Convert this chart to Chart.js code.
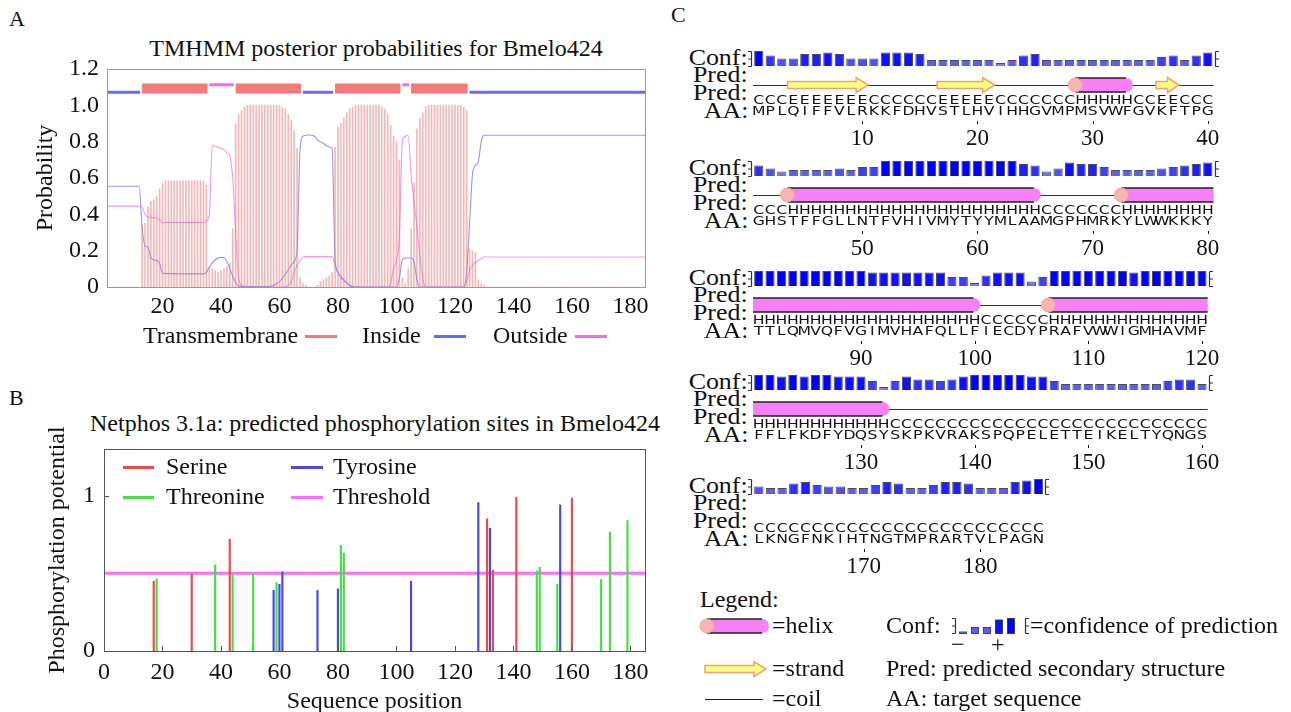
<!DOCTYPE html>
<html>
<head>
<meta charset="utf-8">
<script src="https://cdn.jsdelivr.net/npm/chart.js@4.4.1/dist/chart.umd.min.js"></script>
<style>
  html, body { margin: 0; padding: 0; background: #fff; }
  body { width: 1291px; height: 712px; overflow: hidden; position: relative;
         font-family: "Liberation Serif", "Times New Roman", serif; color: #111; }
  canvas { position: absolute; }
  .t { position: absolute; white-space: nowrap; line-height: 1; }
  .f24 { font-size: 24px; }
  .f22 { font-size: 22px; }
  .key { position: absolute; height: 3px; }
</style>
</head>
<body>

<div class="t f22" style="left:9px;top:8px">A</div>
<div class="t f24" style="left:26px;top:36px;width:700px;text-align:center">TMHMM posterior probabilities for Bmelo424</div>
<canvas id="cA" width="660" height="360" style="left:0;top:0"></canvas>
<div class="t f24" style="left:143px;top:323px">Transmembrane</div>
<div class="key" style="left:305px;top:335px;width:32px;background:#f47a7a"></div>
<div class="t f24" style="left:362px;top:323px">Inside</div>
<div class="key" style="left:434px;top:335px;width:32px;background:#6a6af0"></div>
<div class="t f24" style="left:493px;top:323px">Outside</div>
<div class="key" style="left:575px;top:335px;width:32px;background:#f06af0"></div>

<div class="t f22" style="left:9px;top:387px">B</div>
<div class="t f24" style="left:25px;top:411px;width:700px;text-align:center">Netphos 3.1a: predicted phosphorylation sites in Bmelo424</div>
<canvas id="cB" width="660" height="340" style="left:0;top:380px"></canvas>
<div class="key" style="left:123px;top:466px;width:31px;background:#f04848"></div>
<div class="t f24" style="left:166px;top:454px">Serine</div>
<div class="key" style="left:291px;top:466px;width:32px;background:#4848e8"></div>
<div class="t f24" style="left:333px;top:454px">Tyrosine</div>
<div class="key" style="left:123px;top:496px;width:31px;background:#44e044"></div>
<div class="t f24" style="left:166px;top:484px">Threonine</div>
<div class="key" style="left:291px;top:496px;width:32px;background:#ff6cff"></div>
<div class="t f24" style="left:333px;top:484px">Threshold</div>

<div class="t f22" style="left:671px;top:4px">C</div>
<div id="rowLabels"></div>

<div class="t f24" style="left:700px;top:587px">Legend:</div>
<canvas id="cLegend" width="400" height="100" style="left:690px;top:610px"></canvas>
<div class="t f24" style="left:772px;top:613px">=helix</div>
<div class="t f24" style="left:886px;top:613px">Conf:</div>
<div class="t f24" style="left:1030px;top:613px">=confidence of prediction</div>
<div class="t f24" style="left:951px;top:632px">&#8722;</div>
<div class="t f24" style="left:991px;top:632px">+</div>
<div class="t f24" style="left:772px;top:656px">=strand</div>
<div class="t f24" style="left:886px;top:656px">Pred: predicted secondary structure</div>
<div class="t f24" style="left:772px;top:686px">=coil</div>
<div class="t f24" style="left:886px;top:686px">AA: target sequence</div>

<script>
// ---- panel A: TMHMM posterior probabilities (per residue / curve points)
const tmProb = [
  0, 0, 0, 0, 0, 0, 0, 0, 0, 0,
  0, 0, 0.34, 0.35, 0.44, 0.47, 0.48, 0.5, 0.54, 0.57,
  0.585, 0.585, 0.585, 0.585, 0.585, 0.585, 0.585, 0.585, 0.585, 0.585,
  0.585, 0.585, 0.585, 0.58, 0.56, 0.11, 0.1, 0.09, 0.08, 0.09,
  0.1, 0.11, 0.13, 0.32, 0.9, 0.95, 0.97, 0.99, 1, 1,
  1, 1, 1, 1, 1, 1, 1, 1, 1, 1,
  0.99, 0.98, 0.95, 0.92, 0.86, 0.76, 0.05, 0.02, 0.01, 0,
  0, 0, 0.01, 0.03, 0.04, 0.05, 0.06, 0.08, 0.77, 0.88,
  0.9, 0.93, 0.96, 0.98, 0.99, 1, 1, 1, 1, 1,
  1, 1, 1, 1, 0.99, 0.98, 0.95, 0.89, 0.83, 0.8,
  0.7, 0.05, 0.02, 0.1, 0.32, 0.57, 0.87, 0.93, 0.96, 0.99,
  1, 1, 1, 1, 1, 1, 1, 1, 1, 1,
  1, 1, 0.99, 0.97, 0.21, 0.2, 0.19, 0.04, 0.02, 0.01,
  0, 0, 0, 0, 0, 0, 0, 0, 0, 0,
  0, 0, 0, 0, 0, 0, 0, 0, 0, 0,
  0, 0, 0, 0, 0, 0, 0, 0, 0, 0,
  0, 0, 0, 0, 0, 0, 0, 0, 0, 0,
  0, 0, 0, 0, 0, 0, 0, 0, 0, 0,
  0, 0, 0, 0, 0
];
const insideCurve = [
  [1, 0.555], [12, 0.555], [13, 0.33], [14, 0.225], [15, 0.22], [16, 0.16], [18, 0.145],
  [19, 0.13], [20, 0.075], [34, 0.072], [35, 0.08], [36, 0.11], [38, 0.15], [40, 0.163],
  [41, 0.162], [42, 0.14], [43, 0.1], [44, 0.06], [45, 0.025], [46, 0.005], [56, 0.002],
  [58, 0.01], [60, 0.03], [62, 0.07], [64, 0.12], [65, 0.14], [66, 0.2], [67, 0.75],
  [68, 0.83], [70, 0.837], [72, 0.83], [73, 0.81], [75, 0.79], [77, 0.772], [78, 0.76],
  [79, 0.15], [80, 0.08], [82, 0.04], [84, 0.01], [86, 0.0], [100, 0.0], [101, 0.05],
  [102, 0.15], [103, 0.16], [105, 0.16], [106, 0.14], [107, 0.04], [108, 0.0], [123, 0.0],
  [124, 0.08], [125, 0.35], [126, 0.62], [127, 0.67], [128, 0.69], [129, 0.8], [130, 0.835],
  [185, 0.835]
];
const outsideCurve = [
  [1, 0.445], [12, 0.445], [13, 0.44], [14, 0.4], [15, 0.385], [18, 0.38], [19, 0.37],
  [20, 0.355], [34, 0.355], [35, 0.365], [36, 0.4], [37, 0.78], [38, 0.775], [40, 0.765],
  [41, 0.755], [42, 0.74], [43, 0.72], [44, 0.6], [45, 0.3], [46, 0.05], [47, 0.01], [48, 0.0],
  [62, 0.0], [63, 0.01], [64, 0.03], [65, 0.08], [66, 0.12], [67, 0.145], [68, 0.163],
  [69, 0.167], [78, 0.167], [79, 0.12], [80, 0.08], [81, 0.05], [83, 0.02], [85, 0.0],
  [97, 0.0], [98, 0.02], [99, 0.1], [100, 0.15], [101, 0.28], [102, 0.8], [103, 0.83],
  [104, 0.835], [105, 0.62], [106, 0.47], [107, 0.33], [108, 0.17], [109, 0.05], [110, 0.0],
  [123, 0.0], [124, 0.03], [125, 0.09], [126, 0.12], [127, 0.135], [128, 0.145], [129, 0.155],
  [130, 0.165], [185, 0.165]
];
// predicted topology: [state, first residue, last residue]
const topology = [
  ['inside', 1, 12], ['tm', 13, 35], ['outside', 36, 44], ['tm', 45, 67], ['inside', 68, 78],
  ['tm', 79, 101], ['outside', 102, 104], ['tm', 105, 124], ['inside', 125, 185]
];
const tickXA = [20, 40, 60, 80, 100, 120, 140, 160, 180];
const tickYA = [0, 0.2, 0.4, 0.6, 0.8, 1.0, 1.2];

// ---- panel B: NetPhos sites
const serinePos   = [17, 30, 43, 131, 133, 141, 160];
const serineScore = [0.45, 0.495, 0.72, 0.85, 0.52, 0.99, 0.985];
const threoninePos   = [18, 38, 44, 51, 59, 81, 82, 148, 149, 155, 170, 173, 179];
const threonineScore = [0.465, 0.553, 0.49, 0.495, 0.44, 0.68, 0.63, 0.516, 0.54, 0.43, 0.46, 0.765, 0.84];
const tyrosinePos   = [58, 60, 61, 73, 80, 105, 128, 132, 156];
const tyrosineScore = [0.39, 0.43, 0.51, 0.39, 0.40, 0.45, 0.955, 0.79, 0.94];
const threshold = 0.5;
const tickXB = [0, 20, 40, 60, 80, 100, 120, 140, 160, 180];
const tickYB = [0, 1];

// ---- panel C: PSIPRED
const sequenceRows = [
  'MPLQIFFVLRKKFDHVSTLHVIHHGVMPMSVWFGVKFTPG',
  'GHSTFFGLLNTFVHIVMYTYYMLAAMGPHMRKYLWWKKKY',
  'TTLQMVQFVGIMVHAFQLLFIECDYPRAFVWWIGMHAVMF',
  'FFLFKDFYDQSYSKPKVRAKSPQPELETTEIKELTYQNGS',
  'LKNGFNKIHTNGTMPRARTVLPAGN'
];
const confidence = [
  9, 6, 4, 4, 7, 7, 8, 7, 4, 4, 4, 8, 8, 8, 7, 3, 3, 3, 3, 3, 3, 1, 3, 6, 7, 3, 3, 3, 3, 3, 3, 3, 3, 3, 3, 5, 6, 3, 6, 8,
  6, 4, 2, 3, 3, 3, 3, 4, 3, 5, 5, 9, 9, 9, 9, 9, 9, 9, 9, 9, 9, 9, 9, 7, 6, 2, 4, 8, 7, 7, 5, 3, 3, 3, 3, 4, 5, 6, 7, 8,
  9, 9, 9, 9, 9, 9, 9, 9, 9, 9, 8, 8, 8, 8, 8, 8, 8, 5, 5, 1, 6, 8, 8, 8, 2, 5, 9, 9, 9, 9, 9, 9, 9, 8, 9, 9, 9, 9, 9, 9,
  9, 9, 8, 9, 8, 9, 9, 8, 8, 8, 5, 1, 5, 8, 6, 6, 5, 6, 8, 9, 9, 9, 9, 9, 8, 8, 5, 3, 3, 3, 3, 3, 3, 3, 3, 3, 5, 6, 6, 3,
  4, 3, 3, 6, 7, 5, 4, 4, 3, 3, 5, 7, 6, 3, 3, 5, 7, 7, 6, 3, 3, 3, 7, 8, 9
];
const helixSegments  = [[29, 33], [44, 65], [73, 100], [107, 132]];
const strandSegments = [[4, 10], [17, 21], [36, 37]];
const legendConf = [0, 3, 3, 8, 9];

// ---- layout
const serif = '"Liberation Serif", "Times New Roman", serif';
Chart.defaults.font.family = serif;
Chart.defaults.color = '#111';
const perRow = 40;
const rowConfBottom = [66, 176, 286, 390, 494];
const rowCoil = [true, true, true, true, false];
const colWidth = 11.65;
const rowLeft = 753;

const framePlugin = {
  id: 'frame',
  afterDraw(chart, args, opts) {
    const {ctx, chartArea: a} = chart;
    ctx.save();
    ctx.strokeStyle = opts.color;
    ctx.lineWidth = 1;
    ctx.strokeRect(Math.round(a.left) + 0.5, Math.round(a.top) + 0.5,
                   Math.round(a.right - a.left), Math.round(a.bottom - a.top));
    if (opts.inTicks) {
      ctx.beginPath();
      chart.scales.x.ticks.forEach(t => {
        const px = Math.round(chart.scales.x.getPixelForValue(t.value)) + 0.5;
        ctx.moveTo(px, a.bottom); ctx.lineTo(px, a.bottom - 5);
      });
      chart.scales.y.ticks.forEach(t => {
        const py = Math.round(chart.scales.y.getPixelForValue(t.value)) + 0.5;
        ctx.moveTo(a.left, py); ctx.lineTo(a.left + 5, py);
      });
      ctx.stroke();
    }
    ctx.restore();
  }
};

// ---------- A
const topoStyle = {
  tm:      {color: '#f47a7a', y: 1.0925, width: 10},
  inside:  {color: '#6a6af0', y: 1.072,  width: 3},
  outside: {color: '#f06af0', y: 1.113,  width: 3}
};
const topoSets = topology.map(([state, a, b]) => ({
  type: 'line',
  data: [{x: a, y: topoStyle[state].y}, {x: b + 0.35, y: topoStyle[state].y}],
  borderColor: topoStyle[state].color,
  borderWidth: topoStyle[state].width,
  pointRadius: 0
}));

new Chart(document.getElementById('cA'), {
  type: 'bar',
  data: {
    datasets: [
      {type: 'bar', data: tmProb.map((v, i) => ({x: i + 1, y: v})),
       backgroundColor: 'rgba(238,110,110,0.5)', barThickness: 1, grouped: false},
      {type: 'line', data: insideCurve.map(([x, y]) => ({x, y})), borderColor: '#9696f5',
       borderWidth: 1.1, pointRadius: 0, cubicInterpolationMode: 'monotone'},
      {type: 'line', data: outsideCurve.map(([x, y]) => ({x, y})), borderColor: '#f596f5',
       borderWidth: 1.1, pointRadius: 0, cubicInterpolationMode: 'monotone'},
      ...topoSets
    ]
  },
  options: {
    responsive: false, animation: false,
    layout: {padding: {top: 69, right: 15, left: 0, bottom: 0}},
    plugins: {legend: {display: false}, tooltip: {enabled: false}, frame: {color: '#9a9a9a'}},
    scales: {
      x: {
        type: 'linear', min: 1, max: 185, offset: false,
        grid: {display: false, drawTicks: false}, border: {display: false},
        afterBuildTicks: s => { s.ticks = tickXA.map(value => ({value})); },
        afterFit: s => { s.height = 73; },
        ticks: {padding: 5, autoSkip: false, maxRotation: 0, font: {size: 24}, color: '#111'}
      },
      y: {
        min: 0, max: 1.2,
        grid: {display: false, drawTicks: false}, border: {display: false},
        afterBuildTicks: s => { s.ticks = tickYA.map(value => ({value})); },
        afterFit: s => { s.width = 107; },
        ticks: {padding: 8, font: {size: 24}, color: '#111',
                callback: v => (v === 0 ? '0' : v.toFixed(1))},
        title: {display: true, text: 'Probability', font: {size: 24}, color: '#111',
                padding: {top: 31, bottom: 0}}
      }
    }
  },
  plugins: [framePlugin]
});

// ---------- B
const siteSet = (pos, score, color) => ({
  type: 'bar', data: pos.map((x, i) => ({x, y: score[i]})),
  backgroundColor: color, barThickness: 1.5, grouped: false
});
new Chart(document.getElementById('cB'), {
  type: 'bar',
  data: {
    datasets: [
      {type: 'line', data: [{x: 0, y: threshold}, {x: 185, y: threshold}],
       borderColor: '#ff6cff', borderWidth: 3, pointRadius: 0, order: 5},
      siteSet(serinePos, serineScore, '#f04848'),
      siteSet(threoninePos, threonineScore, '#44e044'),
      siteSet(tyrosinePos, tyrosineScore, '#4848e8')
    ]
  },
  options: {
    responsive: false, animation: false,
    layout: {padding: {top: 69, right: 15, left: 0, bottom: 0}},
    plugins: {legend: {display: false}, tooltip: {enabled: false},
              frame: {color: '#555', inTicks: true}},
    scales: {
      x: {
        type: 'linear', min: 0, max: 185, offset: false,
        grid: {display: false, drawTicks: false}, border: {display: false},
        afterBuildTicks: s => { s.ticks = tickXB.map(value => ({value})); },
        afterFit: s => { s.height = 69; },
        ticks: {padding: 7, autoSkip: false, maxRotation: 0, font: {size: 24}, color: '#111'},
        title: {display: true, text: 'Sequence position', font: {size: 24}, color: '#111',
                padding: {top: 0, bottom: 4}}
      },
      y: {
        min: 0, max: 1.3,
        grid: {display: false, drawTicks: false}, border: {display: false},
        afterBuildTicks: s => { s.ticks = tickYB.map(value => ({value})); },
        afterFit: s => { s.width = 104; },
        ticks: {padding: 9, font: {size: 24}, color: '#111'},
        title: {display: true, text: 'Phosphorylation potential', font: {size: 24}, color: '#111',
                padding: {top: 43, bottom: 0}}
      }
    }
  },
  plugins: [framePlugin]
});

// ---------- C helpers
function confColor(c) {
  const t = Math.max(0, Math.min(1, c / 9));
  const v = Math.round(140 * (1 - t));
  return `rgb(${v},${v},255)`;
}
function drawHelix(ctx, x0, x1, yc, capStart, capEnd) {
  const r = 7;
  const xe = capEnd ? x1 - r : x1;
  ctx.save();
  ctx.fillStyle = '#f77ff7';
  ctx.beginPath();
  ctx.moveTo(x0, yc - r);
  ctx.lineTo(xe, yc - r);
  if (capEnd) ctx.arc(xe, yc, r, -Math.PI / 2, Math.PI / 2);
  else ctx.lineTo(xe, yc + r);
  ctx.lineTo(x0, yc + r);
  ctx.closePath();
  ctx.fill();
  ctx.strokeStyle = '#222';
  ctx.lineWidth = 1.4;
  ctx.beginPath();
  ctx.moveTo(x0, yc - r); ctx.lineTo(xe, yc - r);
  ctx.moveTo(x0, yc + r); ctx.lineTo(xe, yc + r);
  ctx.stroke();
  if (capStart) {
    ctx.fillStyle = '#f5b7b0';
    ctx.strokeStyle = '#eea0a0';
    ctx.lineWidth = 1;
    ctx.beginPath();
    ctx.arc(x0, yc, r, 0, Math.PI * 2);
    ctx.fill();
    ctx.stroke();
  }
  ctx.restore();
}
function drawStrand(ctx, x0, x1, yc) {
  const head = Math.min(12, (x1 - x0) * 0.5);
  const bh = 3.5, hh = 7.5;
  ctx.save();
  ctx.fillStyle = '#ffff80';
  ctx.strokeStyle = '#f4a070';
  ctx.lineWidth = 1.5;
  ctx.beginPath();
  ctx.moveTo(x0, yc - bh);
  ctx.lineTo(x1 - head, yc - bh);
  ctx.lineTo(x1 - head, yc - hh);
  ctx.lineTo(x1, yc);
  ctx.lineTo(x1 - head, yc + hh);
  ctx.lineTo(x1 - head, yc + bh);
  ctx.lineTo(x0, yc + bh);
  ctx.closePath();
  ctx.fill();
  ctx.stroke();
  ctx.restore();
}
function drawMarker(ctx, x, bottom, dir) {
  ctx.save();
  ctx.strokeStyle = '#333';
  ctx.lineWidth = 1.2;
  ctx.beginPath();
  const top = bottom - 15, mid = bottom - 7.5;
  ctx.moveTo(x, top); ctx.lineTo(x, bottom);
  [top, mid, bottom].forEach(y => { ctx.moveTo(x, y); ctx.lineTo(x + dir * 3.5, y); });
  ctx.stroke();
  ctx.restore();
}
function predAt(i) {
  if (helixSegments.some(([a, b]) => i >= a && i <= b)) return 'H';
  if (strandSegments.some(([a, b]) => i >= a && i <= b)) return 'E';
  return 'C';
}
function wideLetter(ctx, ch, x, y) {
  ctx.save();
  ctx.translate(x, y);
  ctx.scale(1.25, 1);
  ctx.fillText(ch, 0, 0);
  ctx.restore();
}

const psipredRow = {
  id: 'psipredRow',
  afterDatasetsDraw(chart, args, o) {
    const {ctx, chartArea} = chart;
    const x = chart.scales.x;
    const n = o.n, start = o.start, end = start + n - 1;
    const w = x.getPixelForValue(1) - x.getPixelForValue(0);
    const L = x.getPixelForValue(0) - w / 2;
    const R = x.getPixelForValue(n - 1) + w / 2;
    const base = chartArea.bottom;
    const edge = i => x.getPixelForValue(i - start) - w / 2;

    drawMarker(ctx, Math.round(L) - 1.5, base + 0.5, -1);
    drawMarker(ctx, Math.round(R) + 1.5, base + 0.5, 1);

    const yc = base + 19;
    if (o.coil) {
      ctx.save();
      ctx.strokeStyle = '#333';
      ctx.lineWidth = 1;
      ctx.beginPath();
      ctx.moveTo(L, yc + 0.5); ctx.lineTo(R, yc + 0.5);
      ctx.stroke();
      ctx.restore();
    }
    strandSegments.forEach(([a, b]) => {
      if (b < start || a > end) return;
      drawStrand(ctx, edge(Math.max(a, start)), edge(Math.min(b, end) + 1), yc);
    });
    helixSegments.forEach(([a, b]) => {
      if (b < start || a > end) return;
      const s = Math.max(a, start), e = Math.min(b, end);
      drawHelix(ctx, edge(s), edge(e + 1), yc, a >= start, b <= end);
    });

    ctx.save();
    ctx.fillStyle = '#111';
    ctx.font = '12.5px "DejaVu Sans", sans-serif';
    ctx.textAlign = 'center';
    ctx.textBaseline = 'middle';
    const seq = sequenceRows[o.row];
    for (let j = 0; j < n; j++) {
      const px = x.getPixelForValue(j);
      wideLetter(ctx, predAt(start + j), px, base + 35);
      wideLetter(ctx, seq[j], px, base + 46);
      if ((start + j) % 10 === 0) ctx.fillRect(Math.round(px), base + 55, 1, 3);
    }
    ctx.restore();
  }
};

// ---------- C rows
const labelHost = document.getElementById('rowLabels');
for (let r = 0; r < sequenceRows.length; r++) {
  const start = r * perRow + 1;
  const n = sequenceRows[r].length;
  const cb = rowConfBottom[r];
  const cv = document.createElement('canvas');
  const areaLeft = rowLeft - 670;
  const areaRight = areaLeft + n * colWidth;
  cv.width = Math.ceil(areaRight + 60);
  cv.height = 112;
  cv.style.left = '670px';
  cv.style.top = (cb - 20) + 'px';
  document.body.appendChild(cv);

  const labels = Array.from({length: n}, (_, j) => String(start + j));
  new Chart(cv, {
    type: 'bar',
    data: {
      labels,
      datasets: [{
        data: confidence.slice(start - 1, start - 1 + n),
        base: -1,
        backgroundColor: c => confColor(c.raw),
        borderColor: 'rgba(45,45,60,0.85)',
        borderWidth: 1,
        barPercentage: 0.8,
        categoryPercentage: 1
      }]
    },
    options: {
      responsive: false, animation: false,
      layout: {padding: {top: 5, left: areaLeft, right: cv.width - areaRight, bottom: 0}},
      plugins: {legend: {display: false}, tooltip: {enabled: false},
                psipredRow: {row: r, start, n, coil: rowCoil[r]}},
      scales: {
        x: {
          grid: {display: false, drawTicks: false}, border: {display: false},
          afterFit: s => { s.height = 92; },
          ticks: {
            padding: 59, autoSkip: false, maxRotation: 0, minRotation: 0,
            font: {size: 23}, color: '#111',
            callback(v) { const lab = this.getLabelForValue(v); return +lab % 10 === 0 ? lab : ''; }
          }
        },
        y: {display: false, min: -1, max: 9}
      }
    },
    plugins: [psipredRow]
  });

  [['Conf:', cb - 8], ['Pred:', cb + 9], ['Pred:', cb + 27], ['AA:', cb + 45]].forEach(([txt, yc]) => {
    const d = document.createElement('div');
    d.className = 't f24';
    d.style.right = (1291 - 748) + 'px';
    d.style.top = (yc - 13) + 'px';
    d.style.transformOrigin = '100% 50%';
    d.style.transform = 'scaleX(1.08)';
    d.textContent = txt;
    labelHost.appendChild(d);
  });
}

// ---------- C legend icons
(function () {
  const ctx = document.getElementById('cLegend').getContext('2d');
  const ox = 690, oy = 610;
  drawHelix(ctx, 707 - ox, 769 - ox, 626 - oy, true, true);
  drawStrand(ctx, 705 - ox, 766 - ox, 669 - oy);
  ctx.strokeStyle = '#222';
  ctx.lineWidth = 1;
  ctx.beginPath();
  ctx.moveTo(705 - ox, 699.5 - oy); ctx.lineTo(763 - ox, 699.5 - oy);
  ctx.stroke();
  const bottom = 633.5 - oy;
  drawMarker(ctx, 955.5 - ox, bottom, -1);
  legendConf.forEach((c, k) => {
    const h = 1.5 * (c + 1);
    const cx = 963 + k * 12 - ox;
    ctx.fillStyle = confColor(c);
    ctx.fillRect(cx - 3.5, bottom - h, 7, h);
    ctx.strokeStyle = 'rgba(45,45,60,0.85)';
    ctx.strokeRect(cx - 3.5, bottom - h, 7, h);
  });
  drawMarker(ctx, 1025.5 - ox, bottom, 1);
})();
</script>
</body>
</html>
